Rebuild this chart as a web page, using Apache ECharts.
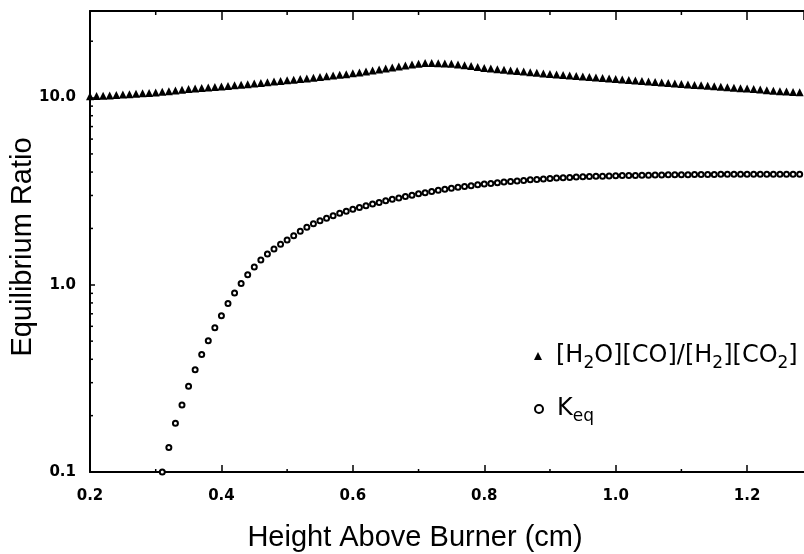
<!DOCTYPE html>
<html>
<head>
<meta charset="utf-8">
<script src="https://cdn.jsdelivr.net/npm/echarts@6/dist/echarts.min.js"></script>
<style>
  html, body { margin: 0; padding: 0; background: #fff; }
  #chart { width: 804px; height: 554px; }
</style>
</head>
<body>
<div id="chart"></div>
<script>
// Height above burner (cm) for the [H2O][CO]/[H2][CO2] ratio profile
const ratioHeights = [
  0.20, 0.21, 0.22, 0.23, 0.24, 0.25, 0.26, 0.27, 0.28, 0.29,
  0.30, 0.31, 0.32, 0.33, 0.34, 0.35, 0.36, 0.37, 0.38, 0.39,
  0.40, 0.41, 0.42, 0.43, 0.44, 0.45, 0.46, 0.47, 0.48, 0.49,
  0.50, 0.51, 0.52, 0.53, 0.54, 0.55, 0.56, 0.57, 0.58, 0.59,
  0.60, 0.61, 0.62, 0.63, 0.64, 0.65, 0.66, 0.67, 0.68, 0.69,
  0.70, 0.71, 0.72, 0.73, 0.74, 0.75, 0.76, 0.77, 0.78, 0.79,
  0.80, 0.81, 0.82, 0.83, 0.84, 0.85, 0.86, 0.87, 0.88, 0.89,
  0.90, 0.91, 0.92, 0.93, 0.94, 0.95, 0.96, 0.97, 0.98, 0.99,
  1.00, 1.01, 1.02, 1.03, 1.04, 1.05, 1.06, 1.07, 1.08, 1.09,
  1.10, 1.11, 1.12, 1.13, 1.14, 1.15, 1.16, 1.17, 1.18, 1.19,
  1.20, 1.21, 1.22, 1.23, 1.24, 1.25, 1.26, 1.27, 1.28, 1.29
];
const ratioValues = [
  10.15, 10.18, 10.22, 10.27, 10.32, 10.38, 10.43, 10.48, 10.53, 10.58,
  10.64, 10.73, 10.82, 10.92, 11.01, 11.10, 11.17, 11.24, 11.31, 11.38,
  11.45, 11.53, 11.62, 11.71, 11.79, 11.88, 11.97, 12.07, 12.17, 12.26,
  12.36, 12.46, 12.56, 12.66, 12.77, 12.87, 12.98, 13.10, 13.22, 13.34,
  13.47, 13.62, 13.78, 13.95, 14.12, 14.29, 14.47, 14.66, 14.85, 15.03,
  15.18, 15.28, 15.30, 15.27, 15.22, 15.14, 15.02, 14.88, 14.73, 14.56,
  14.40, 14.29, 14.18, 14.07, 13.96, 13.86, 13.76, 13.66, 13.56, 13.46,
  13.36, 13.28, 13.19, 13.11, 13.03, 12.95, 12.87, 12.79, 12.71, 12.63,
  12.56, 12.48, 12.41, 12.33, 12.26, 12.18, 12.11, 12.03, 11.96, 11.88,
  11.81, 11.75, 11.68, 11.62, 11.55, 11.49, 11.43, 11.36, 11.30, 11.23,
  11.17, 11.10, 11.03, 10.95, 10.88, 10.81, 10.77, 10.72, 10.68, 10.63
];

// Height above burner (cm) for the equilibrium constant
const keqHeights = [
  0.31, 0.32, 0.33, 0.34, 0.35, 0.36, 0.37, 0.38, 0.39,
  0.40, 0.41, 0.42, 0.43, 0.44, 0.45, 0.46, 0.47, 0.48, 0.49,
  0.50, 0.51, 0.52, 0.53, 0.54, 0.55, 0.56, 0.57, 0.58, 0.59,
  0.60, 0.61, 0.62, 0.63, 0.64, 0.65, 0.66, 0.67, 0.68, 0.69,
  0.70, 0.71, 0.72, 0.73, 0.74, 0.75, 0.76, 0.77, 0.78, 0.79,
  0.80, 0.81, 0.82, 0.83, 0.84, 0.85, 0.86, 0.87, 0.88, 0.89,
  0.90, 0.91, 0.92, 0.93, 0.94, 0.95, 0.96, 0.97, 0.98, 0.99,
  1.00, 1.01, 1.02, 1.03, 1.04, 1.05, 1.06, 1.07, 1.08, 1.09,
  1.10, 1.11, 1.12, 1.13, 1.14, 1.15, 1.16, 1.17, 1.18, 1.19,
  1.20, 1.21, 1.22, 1.23, 1.24, 1.25, 1.26, 1.27, 1.28
];
const keqValues = [
  0.100, 0.135, 0.182, 0.228, 0.287, 0.352, 0.424, 0.503, 0.590,
  0.684, 0.795, 0.905, 1.015, 1.130, 1.245, 1.355, 1.460, 1.555, 1.645,
  1.735, 1.830, 1.930, 2.030, 2.120, 2.200, 2.270, 2.340, 2.410, 2.470,
  2.530, 2.590, 2.645, 2.700, 2.755, 2.810, 2.860, 2.910, 2.960, 3.010,
  3.060, 3.105, 3.150, 3.195, 3.235, 3.275, 3.315, 3.350, 3.385, 3.420,
  3.450, 3.480, 3.510, 3.535, 3.560, 3.585, 3.610, 3.635, 3.655, 3.675,
  3.695, 3.715, 3.730, 3.745, 3.760, 3.775, 3.785, 3.795, 3.805, 3.815,
  3.825, 3.830, 3.835, 3.840, 3.845, 3.850, 3.855, 3.860, 3.865, 3.870,
  3.875, 3.875, 3.880, 3.880, 3.885, 3.885, 3.890, 3.890, 3.890, 3.895,
  3.895, 3.895, 3.900, 3.900, 3.900, 3.900, 3.900, 3.900, 3.900
];

// Intermediate tick marks on both axes
const yMinorTicks = [0.2, 0.3, 0.4, 0.5, 0.6, 0.7, 0.8, 0.9,
                     2, 3, 4, 5, 6, 7, 8, 9, 20];
const xMinorTicks = [0.3, 0.5, 0.7, 0.9, 1.1];

const xAxisTitle = 'Height Above Burner (cm)';
const yAxisTitle = 'Equilibrium Ratio';
const ratioName = '[H2O][CO]/[H2][CO2]';
const keqName = 'Keq';

const FONT = 'DejaVu Sans';
const TITLE_FONT = 'Liberation Sans';
const X_MIN = 0.2, X_MAX = 1.2866;
const Y_MIN = 0.1, Y_MAX = 29;

const chart = echarts.init(document.getElementById('chart'), null, { renderer: 'canvas' });

const zip = (xs, ys) => xs.map((x, i) => [x, ys[i]]);

const xCommon = {
  type: 'value',
  min: X_MIN,
  max: X_MAX,
  interval: 0.2,
  splitLine: { show: false },
  axisLine: { show: true, onZero: false, lineStyle: { color: '#000', width: 2 } }
};

const legendText = {
  fontFamily: FONT,
  fontSize: 24,
  color: '#000',
  rich: {
    g: { width: 9 },
    s: { fontFamily: FONT, fontSize: 17, color: '#000', padding: [15, 0, 0, 0] }
  }
};

chart.setOption({
  animation: false,
  backgroundColor: '#fff',
  grid: { left: 90, top: 11, right: 0, height: 461, containLabel: false },
  xAxis: [
    Object.assign({}, xCommon, {
      position: 'bottom',
      axisTick: { show: true, inside: true, length: 7, lineStyle: { color: '#000', width: 1.5 } },
      axisLabel: {
        show: true, margin: 17, color: '#000', showMaxLabel: false,
        fontFamily: FONT, fontSize: 15, fontWeight: 'bold',
        formatter: v => v.toFixed(1)
      }
    }),
    Object.assign({}, xCommon, {
      position: 'top',
      axisTick: { show: true, inside: true, length: 9, lineStyle: { color: '#000', width: 1.5 } },
      axisLabel: { show: false }
    })
  ],
  yAxis: {
    type: 'log',
    logBase: 10,
    min: Y_MIN,
    max: Y_MAX,
    splitLine: { show: false },
    axisLine: { show: true, onZero: false, lineStyle: { color: '#000', width: 2 } },
    axisTick: { show: true, inside: true, length: 5, lineStyle: { color: '#000', width: 1.5 } },
    axisLabel: {
      margin: 14, color: '#000',
      fontFamily: FONT, fontSize: 15, fontWeight: 'bold',
      formatter: v => {
        const e = Math.log10(v);
        return Math.abs(e - Math.round(e)) < 1e-6 ? v.toFixed(1) : '';
      }
    }
  },
  legend: [
    {
      data: [ratioName],
      orient: 'vertical',
      left: 529,
      top: 339,
      itemWidth: 8,
      itemHeight: 8,
      textStyle: legendText,
      formatter: () => '{g|}[H{s|2}O][CO]/[H{s|2}][CO{s|2}]'
    },
    {
      data: [keqName],
      orient: 'vertical',
      left: 529,
      top: 392,
      itemWidth: 8,
      itemHeight: 8,
      textStyle: legendText,
      formatter: () => '{g|}K{s|eq}'
    }
  ],
  graphic: [
    {
      type: 'text',
      x: 415, y: 538,
      style: {
        text: xAxisTitle, fill: '#000',
        font: '29px "' + TITLE_FONT + '"',
        align: 'center', verticalAlign: 'middle'
      }
    },
    {
      type: 'text',
      x: 23, y: 247,
      rotation: Math.PI / 2,
      style: {
        text: yAxisTitle, fill: '#000',
        font: '29px "' + TITLE_FONT + '"',
        align: 'center', verticalAlign: 'middle'
      }
    }
  ],
  series: [
    {
      name: ratioName,
      type: 'scatter',
      symbol: 'triangle',
      symbolSize: [8, 8],
      itemStyle: { color: '#000', opacity: 1 },
      data: zip(ratioHeights, ratioValues),
      clip: true
    },
    {
      name: keqName,
      type: 'scatter',
      symbol: 'emptyCircle',
      symbolSize: 5,
      itemStyle: { color: '#000', borderColor: '#000', borderWidth: 2, opacity: 1 },
      data: zip(keqHeights, keqValues),
      clip: false
    },
    {
      // minor ticks on the logarithmic axis
      type: 'custom',
      silent: true,
      renderItem: (params, api) => {
        const p = api.coord([X_MIN, api.value(0)]);
        return {
          type: 'line',
          shape: { x1: p[0], y1: p[1], x2: p[0] + 3, y2: p[1] },
          style: { stroke: '#000', lineWidth: 1.5 }
        };
      },
      data: yMinorTicks.map(v => [v]),
      encode: { y: 0 },
      clip: false,
      z: 3
    },
    {
      // minor ticks on the bottom and top height axes
      type: 'custom',
      silent: true,
      renderItem: (params, api) => {
        const b = api.coord([api.value(0), Y_MIN]);
        const t = api.coord([api.value(0), Y_MAX]);
        return {
          type: 'group',
          children: [
            { type: 'line', shape: { x1: b[0], y1: b[1], x2: b[0], y2: b[1] - 3 },
              style: { stroke: '#000', lineWidth: 1.5 } },
            { type: 'line', shape: { x1: t[0], y1: t[1], x2: t[0], y2: t[1] + 4 },
              style: { stroke: '#000', lineWidth: 1.5 } }
          ]
        };
      },
      data: xMinorTicks.map(v => [v]),
      encode: { x: 0 },
      clip: false,
      z: 3
    }
  ]
});
</script>
</body>
</html>
